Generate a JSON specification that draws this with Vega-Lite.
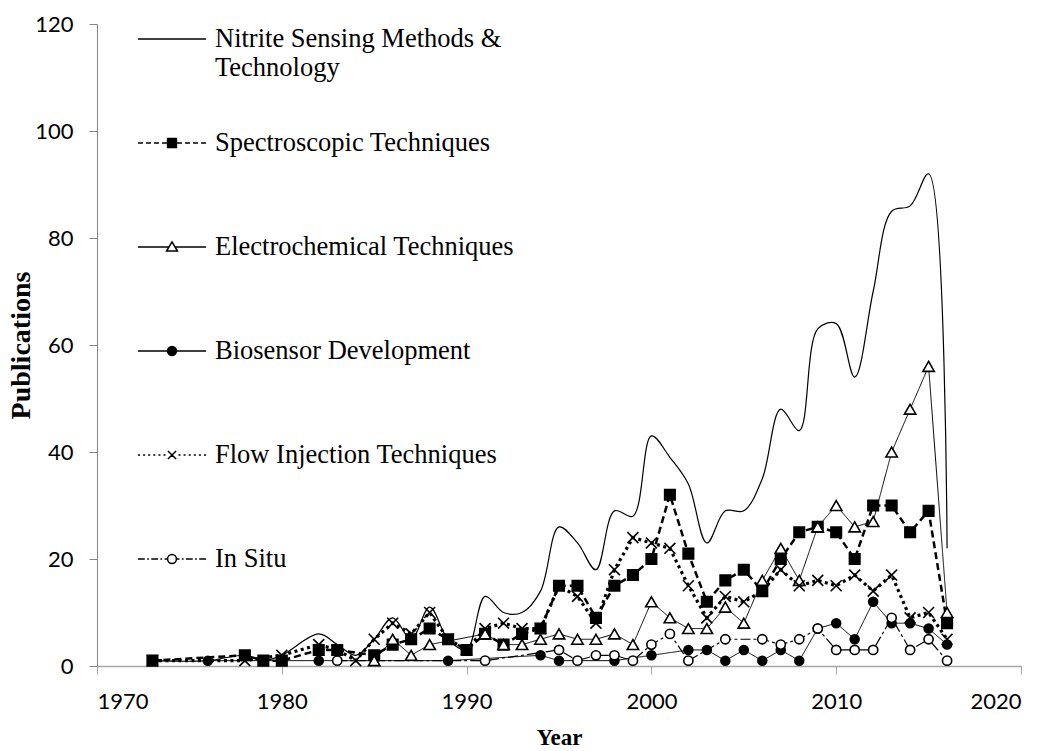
{
  "$schema": "https://vega.github.io/schema/vega-lite/v6.json",
  "width": 924,
  "height": 642,
  "autosize": {"type": "none"},
  "padding": {"left": 97, "top": 24, "right": 28, "bottom": 85},
  "background": "white",
  "config": {
    "view": {"stroke": null},
    "axis": {"grid": false, "labelFont": "Lato", "labelColor": "black", "titleColor": "black", "titleFont": "Liberation Serif", "titleFontWeight": "bold"},
    "legend": {
      "orient": "none", "legendX": 40, "legendY": -20, "padding": 0,
      "rowPadding": 27, "labelFont": "Liberation Serif", "labelFontSize": 26.5, "labelColor": "black",
      "labelLimit": 0, "labelOffset": 8, "symbolSize": 4624, "symbolStrokeWidth": 1.5, "symbolStrokeColor": "black"
    }
  },
  "data": {"values": [
    {"series": "Nitrite Sensing Methods & Technology", "year": 1973, "value": 1},
    {"series": "Nitrite Sensing Methods & Technology", "year": 1976, "value": 1},
    {"series": "Nitrite Sensing Methods & Technology", "year": 1978, "value": 2},
    {"series": "Nitrite Sensing Methods & Technology", "year": 1979, "value": 1},
    {"series": "Nitrite Sensing Methods & Technology", "year": 1980, "value": 2},
    {"series": "Nitrite Sensing Methods & Technology", "year": 1982, "value": 6},
    {"series": "Nitrite Sensing Methods & Technology", "year": 1983, "value": 4},
    {"series": "Nitrite Sensing Methods & Technology", "year": 1984, "value": 2},
    {"series": "Nitrite Sensing Methods & Technology", "year": 1985, "value": 5},
    {"series": "Nitrite Sensing Methods & Technology", "year": 1986, "value": 9},
    {"series": "Nitrite Sensing Methods & Technology", "year": 1987, "value": 5},
    {"series": "Nitrite Sensing Methods & Technology", "year": 1988, "value": 11},
    {"series": "Nitrite Sensing Methods & Technology", "year": 1989, "value": 5},
    {"series": "Nitrite Sensing Methods & Technology", "year": 1990, "value": 3},
    {"series": "Nitrite Sensing Methods & Technology", "year": 1991, "value": 13},
    {"series": "Nitrite Sensing Methods & Technology", "year": 1992, "value": 10},
    {"series": "Nitrite Sensing Methods & Technology", "year": 1993, "value": 10},
    {"series": "Nitrite Sensing Methods & Technology", "year": 1994, "value": 14},
    {"series": "Nitrite Sensing Methods & Technology", "year": 1995, "value": 26},
    {"series": "Nitrite Sensing Methods & Technology", "year": 1996, "value": 23},
    {"series": "Nitrite Sensing Methods & Technology", "year": 1997, "value": 18},
    {"series": "Nitrite Sensing Methods & Technology", "year": 1998, "value": 29},
    {"series": "Nitrite Sensing Methods & Technology", "year": 1999, "value": 28},
    {"series": "Nitrite Sensing Methods & Technology", "year": 2000, "value": 43},
    {"series": "Nitrite Sensing Methods & Technology", "year": 2001, "value": 39},
    {"series": "Nitrite Sensing Methods & Technology", "year": 2002, "value": 34},
    {"series": "Nitrite Sensing Methods & Technology", "year": 2003, "value": 23},
    {"series": "Nitrite Sensing Methods & Technology", "year": 2004, "value": 29},
    {"series": "Nitrite Sensing Methods & Technology", "year": 2005, "value": 29},
    {"series": "Nitrite Sensing Methods & Technology", "year": 2006, "value": 35},
    {"series": "Nitrite Sensing Methods & Technology", "year": 2007, "value": 48},
    {"series": "Nitrite Sensing Methods & Technology", "year": 2008, "value": 44},
    {"series": "Nitrite Sensing Methods & Technology", "year": 2009, "value": 63},
    {"series": "Nitrite Sensing Methods & Technology", "year": 2010, "value": 64},
    {"series": "Nitrite Sensing Methods & Technology", "year": 2011, "value": 54},
    {"series": "Nitrite Sensing Methods & Technology", "year": 2012, "value": 70},
    {"series": "Nitrite Sensing Methods & Technology", "year": 2013, "value": 85},
    {"series": "Nitrite Sensing Methods & Technology", "year": 2014, "value": 86},
    {"series": "Nitrite Sensing Methods & Technology", "year": 2015, "value": 92},
    {"series": "Nitrite Sensing Methods & Technology", "year": 2016, "value": 22},

    {"series": "Spectroscopic Techniques", "year": 1973, "value": 1},
    {"series": "Spectroscopic Techniques", "year": 1978, "value": 2},
    {"series": "Spectroscopic Techniques", "year": 1979, "value": 1},
    {"series": "Spectroscopic Techniques", "year": 1980, "value": 1},
    {"series": "Spectroscopic Techniques", "year": 1982, "value": 3},
    {"series": "Spectroscopic Techniques", "year": 1983, "value": 3},
    {"series": "Spectroscopic Techniques", "year": 1985, "value": 2},
    {"series": "Spectroscopic Techniques", "year": 1986, "value": 4},
    {"series": "Spectroscopic Techniques", "year": 1987, "value": 5},
    {"series": "Spectroscopic Techniques", "year": 1988, "value": 7},
    {"series": "Spectroscopic Techniques", "year": 1989, "value": 5},
    {"series": "Spectroscopic Techniques", "year": 1990, "value": 3},
    {"series": "Spectroscopic Techniques", "year": 1991, "value": 6},
    {"series": "Spectroscopic Techniques", "year": 1992, "value": 4},
    {"series": "Spectroscopic Techniques", "year": 1993, "value": 6},
    {"series": "Spectroscopic Techniques", "year": 1994, "value": 7},
    {"series": "Spectroscopic Techniques", "year": 1995, "value": 15},
    {"series": "Spectroscopic Techniques", "year": 1996, "value": 15},
    {"series": "Spectroscopic Techniques", "year": 1997, "value": 9},
    {"series": "Spectroscopic Techniques", "year": 1998, "value": 15},
    {"series": "Spectroscopic Techniques", "year": 1999, "value": 17},
    {"series": "Spectroscopic Techniques", "year": 2000, "value": 20},
    {"series": "Spectroscopic Techniques", "year": 2001, "value": 32},
    {"series": "Spectroscopic Techniques", "year": 2002, "value": 21},
    {"series": "Spectroscopic Techniques", "year": 2003, "value": 12},
    {"series": "Spectroscopic Techniques", "year": 2004, "value": 16},
    {"series": "Spectroscopic Techniques", "year": 2005, "value": 18},
    {"series": "Spectroscopic Techniques", "year": 2006, "value": 14},
    {"series": "Spectroscopic Techniques", "year": 2007, "value": 20},
    {"series": "Spectroscopic Techniques", "year": 2008, "value": 25},
    {"series": "Spectroscopic Techniques", "year": 2009, "value": 26},
    {"series": "Spectroscopic Techniques", "year": 2010, "value": 25},
    {"series": "Spectroscopic Techniques", "year": 2011, "value": 20},
    {"series": "Spectroscopic Techniques", "year": 2012, "value": 30},
    {"series": "Spectroscopic Techniques", "year": 2013, "value": 30},
    {"series": "Spectroscopic Techniques", "year": 2014, "value": 25},
    {"series": "Spectroscopic Techniques", "year": 2015, "value": 29},
    {"series": "Spectroscopic Techniques", "year": 2016, "value": 8},

    {"series": "Electrochemical Techniques", "year": 1985, "value": 1},
    {"series": "Electrochemical Techniques", "year": 1986, "value": 5},
    {"series": "Electrochemical Techniques", "year": 1987, "value": 2},
    {"series": "Electrochemical Techniques", "year": 1988, "value": 4},
    {"series": "Electrochemical Techniques", "year": 1991, "value": 6},
    {"series": "Electrochemical Techniques", "year": 1992, "value": 4},
    {"series": "Electrochemical Techniques", "year": 1993, "value": 4},
    {"series": "Electrochemical Techniques", "year": 1994, "value": 5},
    {"series": "Electrochemical Techniques", "year": 1995, "value": 6},
    {"series": "Electrochemical Techniques", "year": 1996, "value": 5},
    {"series": "Electrochemical Techniques", "year": 1997, "value": 5},
    {"series": "Electrochemical Techniques", "year": 1998, "value": 6},
    {"series": "Electrochemical Techniques", "year": 1999, "value": 4},
    {"series": "Electrochemical Techniques", "year": 2000, "value": 12},
    {"series": "Electrochemical Techniques", "year": 2001, "value": 9},
    {"series": "Electrochemical Techniques", "year": 2002, "value": 7},
    {"series": "Electrochemical Techniques", "year": 2003, "value": 7},
    {"series": "Electrochemical Techniques", "year": 2004, "value": 11},
    {"series": "Electrochemical Techniques", "year": 2005, "value": 8},
    {"series": "Electrochemical Techniques", "year": 2006, "value": 16},
    {"series": "Electrochemical Techniques", "year": 2007, "value": 22},
    {"series": "Electrochemical Techniques", "year": 2008, "value": 16},
    {"series": "Electrochemical Techniques", "year": 2009, "value": 26},
    {"series": "Electrochemical Techniques", "year": 2010, "value": 30},
    {"series": "Electrochemical Techniques", "year": 2011, "value": 26},
    {"series": "Electrochemical Techniques", "year": 2012, "value": 27},
    {"series": "Electrochemical Techniques", "year": 2013, "value": 40},
    {"series": "Electrochemical Techniques", "year": 2014, "value": 48},
    {"series": "Electrochemical Techniques", "year": 2015, "value": 56},
    {"series": "Electrochemical Techniques", "year": 2016, "value": 10},

    {"series": "Biosensor Development", "year": 1976, "value": 1},
    {"series": "Biosensor Development", "year": 1982, "value": 1},
    {"series": "Biosensor Development", "year": 1989, "value": 1},
    {"series": "Biosensor Development", "year": 1994, "value": 2},
    {"series": "Biosensor Development", "year": 1995, "value": 1},
    {"series": "Biosensor Development", "year": 1998, "value": 1},
    {"series": "Biosensor Development", "year": 2000, "value": 2},
    {"series": "Biosensor Development", "year": 2002, "value": 3},
    {"series": "Biosensor Development", "year": 2003, "value": 3},
    {"series": "Biosensor Development", "year": 2004, "value": 1},
    {"series": "Biosensor Development", "year": 2005, "value": 3},
    {"series": "Biosensor Development", "year": 2006, "value": 1},
    {"series": "Biosensor Development", "year": 2007, "value": 3},
    {"series": "Biosensor Development", "year": 2008, "value": 1},
    {"series": "Biosensor Development", "year": 2009, "value": 7},
    {"series": "Biosensor Development", "year": 2010, "value": 8},
    {"series": "Biosensor Development", "year": 2011, "value": 5},
    {"series": "Biosensor Development", "year": 2012, "value": 12},
    {"series": "Biosensor Development", "year": 2013, "value": 8},
    {"series": "Biosensor Development", "year": 2014, "value": 8},
    {"series": "Biosensor Development", "year": 2015, "value": 7},
    {"series": "Biosensor Development", "year": 2016, "value": 4},

    {"series": "Flow Injection Techniques", "year": 1973, "value": 1},
    {"series": "Flow Injection Techniques", "year": 1978, "value": 1},
    {"series": "Flow Injection Techniques", "year": 1980, "value": 2},
    {"series": "Flow Injection Techniques", "year": 1982, "value": 4},
    {"series": "Flow Injection Techniques", "year": 1983, "value": 3},
    {"series": "Flow Injection Techniques", "year": 1984, "value": 1},
    {"series": "Flow Injection Techniques", "year": 1985, "value": 5},
    {"series": "Flow Injection Techniques", "year": 1986, "value": 8},
    {"series": "Flow Injection Techniques", "year": 1987, "value": 6},
    {"series": "Flow Injection Techniques", "year": 1988, "value": 10},
    {"series": "Flow Injection Techniques", "year": 1989, "value": 5},
    {"series": "Flow Injection Techniques", "year": 1990, "value": 3},
    {"series": "Flow Injection Techniques", "year": 1991, "value": 7},
    {"series": "Flow Injection Techniques", "year": 1992, "value": 8},
    {"series": "Flow Injection Techniques", "year": 1993, "value": 7},
    {"series": "Flow Injection Techniques", "year": 1994, "value": 7},
    {"series": "Flow Injection Techniques", "year": 1995, "value": 15},
    {"series": "Flow Injection Techniques", "year": 1996, "value": 13},
    {"series": "Flow Injection Techniques", "year": 1997, "value": 8},
    {"series": "Flow Injection Techniques", "year": 1998, "value": 18},
    {"series": "Flow Injection Techniques", "year": 1999, "value": 24},
    {"series": "Flow Injection Techniques", "year": 2000, "value": 23},
    {"series": "Flow Injection Techniques", "year": 2001, "value": 22},
    {"series": "Flow Injection Techniques", "year": 2002, "value": 15},
    {"series": "Flow Injection Techniques", "year": 2003, "value": 9},
    {"series": "Flow Injection Techniques", "year": 2004, "value": 13},
    {"series": "Flow Injection Techniques", "year": 2005, "value": 12},
    {"series": "Flow Injection Techniques", "year": 2006, "value": 14},
    {"series": "Flow Injection Techniques", "year": 2007, "value": 18},
    {"series": "Flow Injection Techniques", "year": 2008, "value": 15},
    {"series": "Flow Injection Techniques", "year": 2009, "value": 16},
    {"series": "Flow Injection Techniques", "year": 2010, "value": 15},
    {"series": "Flow Injection Techniques", "year": 2011, "value": 17},
    {"series": "Flow Injection Techniques", "year": 2012, "value": 14},
    {"series": "Flow Injection Techniques", "year": 2013, "value": 17},
    {"series": "Flow Injection Techniques", "year": 2014, "value": 9},
    {"series": "Flow Injection Techniques", "year": 2015, "value": 10},
    {"series": "Flow Injection Techniques", "year": 2016, "value": 5},

    {"series": "In Situ", "year": 1983, "value": 1},
    {"series": "In Situ", "year": 1991, "value": 1},
    {"series": "In Situ", "year": 1995, "value": 3},
    {"series": "In Situ", "year": 1996, "value": 1},
    {"series": "In Situ", "year": 1997, "value": 2},
    {"series": "In Situ", "year": 1998, "value": 2},
    {"series": "In Situ", "year": 1999, "value": 1},
    {"series": "In Situ", "year": 2000, "value": 4},
    {"series": "In Situ", "year": 2001, "value": 6},
    {"series": "In Situ", "year": 2002, "value": 1},
    {"series": "In Situ", "year": 2004, "value": 5},
    {"series": "In Situ", "year": 2006, "value": 5},
    {"series": "In Situ", "year": 2007, "value": 4},
    {"series": "In Situ", "year": 2008, "value": 5},
    {"series": "In Situ", "year": 2009, "value": 7},
    {"series": "In Situ", "year": 2010, "value": 3},
    {"series": "In Situ", "year": 2011, "value": 3},
    {"series": "In Situ", "year": 2012, "value": 3},
    {"series": "In Situ", "year": 2013, "value": 9},
    {"series": "In Situ", "year": 2014, "value": 3},
    {"series": "In Situ", "year": 2015, "value": 5},
    {"series": "In Situ", "year": 2016, "value": 1}
  ]},
  "encoding": {
    "x": {"field": "year", "type": "quantitative",
      "scale": {"domain": [1970, 2020], "nice": false, "zero": false},
      "axis": {"title": "Year", "values": [1970, 1980, 1990, 2000, 2010, 2020], "format": "d",
        "labelFontSize": 22, "labelPadding": 17, "tickSize": 8, "tickColor": "#a6a6a6", "domainColor": "#a6a6a6", "domainWidth": 1.5,
        "titleFontSize": 23, "titlePadding": 14}},
    "y": {"field": "value", "type": "quantitative",
      "scale": {"domain": [0, 120], "nice": false},
      "axis": {"title": "Publications", "values": [0, 20, 40, 60, 80, 100, 120],
        "labelFontSize": 22, "labelPadding": 16, "tickSize": 8, "tickColor": "#868686", "domainColor": "#868686", "domainWidth": 1,
        "titleFontSize": 28, "titleX": -62}}
  },
  "layer": [
    {
      "transform": [{"filter": "datum.series == 'Nitrite Sensing Methods & Technology'"}],
      "mark": {"type": "line", "interpolate": "catmull-rom", "color": "black", "strokeWidth": 1.2},
      "encoding": {}
    },
    {
      "transform": [{"filter": "datum.series != 'Nitrite Sensing Methods & Technology'"}],
      "mark": {"type": "line", "color": "black"},
      "encoding": {
        "strokeDash": {"field": "series", "type": "nominal", "legend": null,
          "scale": {"domain": ["Spectroscopic Techniques", "Electrochemical Techniques", "Biosensor Development", "Flow Injection Techniques", "In Situ"],
            "range": [[7, 4], [1, 0], [1, 0], [3, 3.5], [10, 3, 3, 3]]}},
        "strokeWidth": {"field": "series", "type": "nominal", "legend": null,
          "scale": {"type": "ordinal", "domain": ["Spectroscopic Techniques", "Electrochemical Techniques", "Biosensor Development", "Flow Injection Techniques", "In Situ"],
            "range": [2.5, 1, 1, 3.2, 1.2]}}
      }
    },
    {
      "transform": [{"filter": "datum.series != 'Nitrite Sensing Methods & Technology'"}],
      "mark": {"type": "point", "stroke": "black", "strokeWidth": 1.6, "opacity": 1},
      "encoding": {
        "shape": {"field": "series", "type": "nominal", "legend": null,
          "scale": {"domain": ["Spectroscopic Techniques", "Electrochemical Techniques", "Biosensor Development", "Flow Injection Techniques", "In Situ"],
            "range": ["square", "triangle-up", "circle", "M-1,-1L1,1M-1,1L1,-1", "circle"]}},
        "fill": {"field": "series", "type": "nominal", "legend": null,
          "scale": {"domain": ["Spectroscopic Techniques", "Electrochemical Techniques", "Biosensor Development", "Flow Injection Techniques", "In Situ"],
            "range": ["black", "white", "black", "transparent", "white"]}},
        "size": {"field": "series", "type": "nominal", "legend": null,
          "scale": {"type": "ordinal", "domain": ["Spectroscopic Techniques", "Electrochemical Techniques", "Biosensor Development", "Flow Injection Techniques", "In Situ"],
            "range": [110, 130, 80, 120, 85]}}
      }
    },
    {
      "transform": [{"filter": "false"}],
      "mark": {"type": "point", "strokeWidth": 1.5, "opacity": 1},
      "encoding": {
        "shape": {"field": "series", "type": "nominal",
          "legend": {"title": null, "labelExpr": "datum.label == 'Nitrite Sensing Methods & Technology' ? ['Nitrite Sensing Methods &', 'Technology'] : [datum.label, ' ']"},
          "scale": {"domain": ["Nitrite Sensing Methods & Technology", "Spectroscopic Techniques", "Electrochemical Techniques", "Biosensor Development", "Flow Injection Techniques", "In Situ"],
            "range": [
              "M-1,0H1",
              "M-1,0H-0.853M-0.765,0H-0.618M-0.53,0H-0.383M-0.295,0H-0.15M0.15,0H0.295M0.383,0H0.53M0.618,0H0.765M0.853,0H1M-0.13,-0.13H0.13V0.13H-0.13Z",
              "M-1,0H-0.09M0.09,0H1M0,-0.15L0.16,0.12L-0.16,0.12Z",
              "M-1,0H-0.13M0.13,0H1M0.13,0A0.13,0.13,0,1,1,-0.13,0A0.13,0.13,0,1,1,0.13,0Z",
              "M-1,0H-0.94M-0.85,0H-0.79M-0.7,0H-0.64M-0.55,0H-0.49M-0.4,0H-0.34M-0.25,0H-0.19M0.19,0H0.25M0.34,0H0.4M0.49,0H0.55M0.64,0H0.7M0.79,0H0.85M0.94,0H1M-0.12,-0.12L0.12,0.12M-0.12,0.12L0.12,-0.12",
              "M-1,0H-0.8M-0.73,0H-0.68M-0.61,0H-0.41M-0.34,0H-0.29M-0.22,0H-0.14M0.14,0H0.22M0.29,0H0.34M0.41,0H0.61M0.68,0H0.73M0.8,0H1M0.13,0A0.13,0.13,0,1,1,-0.13,0A0.13,0.13,0,1,1,0.13,0Z"
            ]}},
        "fill": {"field": "series", "type": "nominal",
          "legend": {"title": null, "labelExpr": "datum.label == 'Nitrite Sensing Methods & Technology' ? ['Nitrite Sensing Methods &', 'Technology'] : [datum.label, ' ']"},
          "scale": {"domain": ["Nitrite Sensing Methods & Technology", "Spectroscopic Techniques", "Electrochemical Techniques", "Biosensor Development", "Flow Injection Techniques", "In Situ"],
            "range": ["black", "black", "white", "black", "black", "white"]}},
        "stroke": {"field": "series", "type": "nominal",
          "legend": {"title": null, "labelExpr": "datum.label == 'Nitrite Sensing Methods & Technology' ? ['Nitrite Sensing Methods &', 'Technology'] : [datum.label, ' ']"},
          "scale": {"domain": ["Nitrite Sensing Methods & Technology", "Spectroscopic Techniques", "Electrochemical Techniques", "Biosensor Development", "Flow Injection Techniques", "In Situ"],
            "range": ["black", "black", "black", "black", "black", "black"]}}
      }
    }
  ],
  "resolve": {"scale": {"shape": "independent", "fill": "independent", "size": "independent", "stroke": "independent"}}
}
